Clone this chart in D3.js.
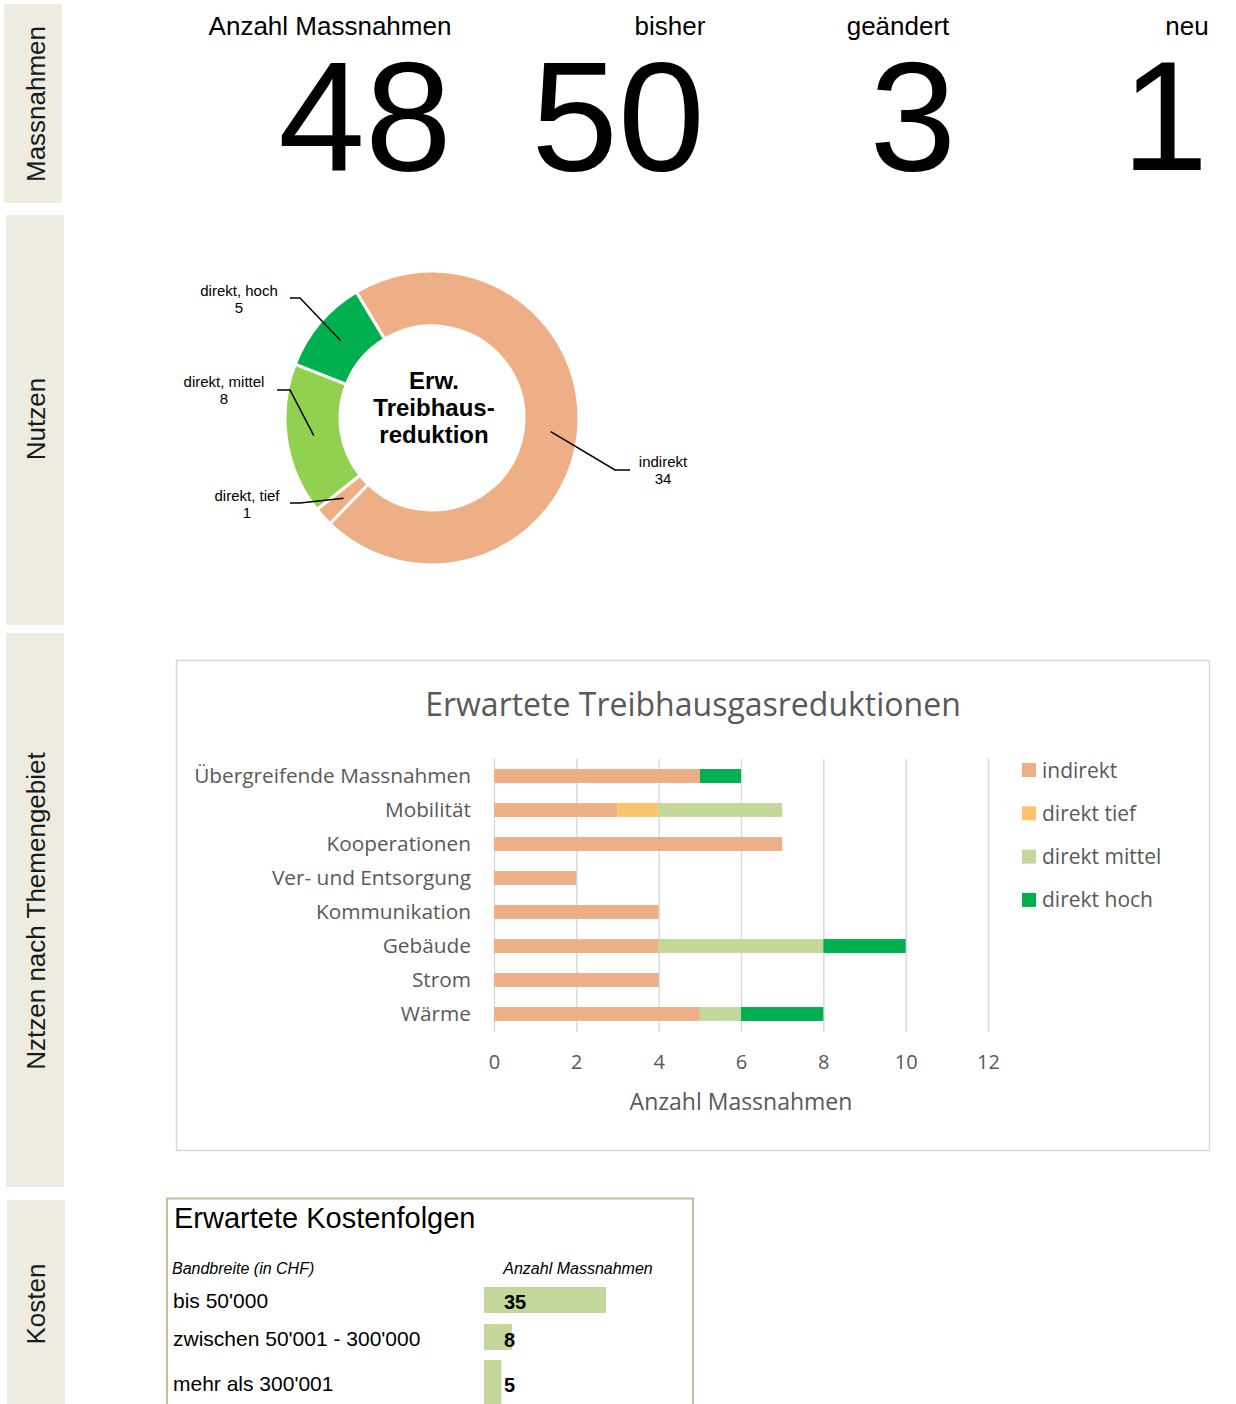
<!DOCTYPE html>
<html>
<head>
<meta charset="utf-8">
<script src="https://cdn.jsdelivr.net/npm/d3@7"></script>
<style>
  body { margin: 0; background: #fff; }
  svg { display: block; }
</style>
</head>
<body>
<script>
// --- data ---
const sideLabels = ["Massnahmen", "Nutzen", "Nztzen nach Themengebiet", "Kosten"];

const kpiLabels = ["Anzahl Massnahmen", "bisher", "geändert", "neu"];
const kpiValues = [48, 50, 3, 1];

const donutLabels = ["indirekt", "direkt, tief", "direkt, mittel", "direkt, hoch"];
const donutValues = [34, 1, 8, 5];

const themes = ["Übergreifende Massnahmen", "Mobilität", "Kooperationen", "Ver- und Entsorgung",
  "Kommunikation", "Gebäude", "Strom", "Wärme"];
const seriesNames = ["indirekt", "direkt tief", "direkt mittel", "direkt hoch"];
const indirekt = [5, 3, 7, 2, 4, 4, 4, 5];
const direktTief = [0, 1, 0, 0, 0, 0, 0, 0];
const direktMittel = [0, 3, 0, 0, 0, 4, 0, 1];
const direktHoch = [1, 0, 0, 0, 0, 2, 0, 2];
const xTicks = [0, 2, 4, 6, 8, 10, 12];

const costLabels = ["bis 50'000", "zwischen 50'001 - 300'000", "mehr als 300'001"];
const costValues = [35, 8, 5];

// --- layout ---
const W = 1236, H = 1404;
const arial = "'Liberation Sans', Arial, sans-serif";
const calib = "'Open Sans', sans-serif";
const grey = "#595959";

const svg = d3.select("body")
  .append("svg")
  .attr("width", W)
  .attr("height", H);

// side panels
const panels = [
  {x: 4, y: 4, w: 58, h: 199},
  {x: 6, y: 215, w: 58, h: 410},
  {x: 6, y: 633, w: 58, h: 554},
  {x: 7, y: 1200, w: 58, h: 210}
];
const panelTextY = [104, 419, 911, 1304];

panels.forEach((p, i) => {
  svg.append("rect")
    .attr("x", p.x).attr("y", p.y)
    .attr("width", p.w).attr("height", p.h)
    .attr("fill", "#EEECE1");
  svg.append("text")
    .attr("transform", `translate(45,${panelTextY[i]}) rotate(-90)`)
    .attr("text-anchor", "middle")
    .attr("font-family", arial)
    .attr("font-size", 26)
    .attr("fill", "#1a1a1a")
    .text(sideLabels[i]);
});

// KPI row
const kpiLabelX = [330, 670, 898, 1187];
const kpiValueX = [365, 618, 913, 1165];

kpiLabels.forEach((l, i) => {
  svg.append("text")
    .attr("x", kpiLabelX[i]).attr("y", 35)
    .attr("text-anchor", "middle")
    .attr("font-family", arial)
    .attr("font-size", 26)
    .text(l);
  svg.append("text")
    .attr("x", kpiValueX[i]).attr("y", 170)
    .attr("text-anchor", "middle")
    .attr("font-family", arial)
    .attr("font-size", 156)
    .text(kpiValues[i]);
});

// donut
const cx = 432, cy = 418;
const donutColors = ["#EEAF86", "#EEAF86", "#92D050", "#00B050"];
const start = -31 * Math.PI / 180;

const pie = d3.pie()
  .sort(null)
  .startAngle(start)
  .endAngle(start + 2 * Math.PI);

const arc = d3.arc()
  .innerRadius(92)
  .outerRadius(147);

const arcs = pie(donutValues);
const dg = svg.append("g").attr("transform", `translate(${cx},${cy})`);

dg.selectAll("path")
  .data(arcs)
  .join("path")
  .attr("d", arc)
  .attr("fill", (d, i) => donutColors[i])
  .attr("stroke", "#fff")
  .attr("stroke-width", 3);

dg.append("text")
  .attr("text-anchor", "middle")
  .attr("font-family", arial)
  .attr("font-weight", "bold")
  .attr("font-size", 24)
  .selectAll("tspan")
  .data(["Erw.", "Treibhaus-", "reduktion"])
  .join("tspan")
  .attr("x", 2)
  .attr("y", (d, i) => -29 + i * 27)
  .text(d => d);

// donut labels with leader lines
const labelPos = [
  {x: 663, y: 467, lx: 630, kx: 615},
  {x: 247, y: 501, lx: 290, kx: 300},
  {x: 224, y: 387, lx: 277, kx: 290},
  {x: 239, y: 296, lx: 290, kx: 300}
];
const lineY = [470, 503, 390, 298];

arcs.forEach((a, i) => {
  const c = arc.centroid(a);
  const p = labelPos[i];
  svg.append("path")
    .attr("d", d3.line()([[p.lx, lineY[i]], [p.kx, lineY[i]], [cx + c[0], cy + c[1]]]))
    .attr("fill", "none")
    .attr("stroke", "#000")
    .attr("stroke-width", 1.5);
  const t = svg.append("text")
    .attr("text-anchor", "middle")
    .attr("font-family", arial)
    .attr("font-size", 15);
  t.append("tspan").attr("x", p.x).attr("y", p.y).text(donutLabels[i]);
  t.append("tspan").attr("x", p.x).attr("y", p.y + 17).text(donutValues[i]);
});

// stacked bar chart
svg.append("rect")
  .attr("x", 176.5).attr("y", 660.5)
  .attr("width", 1033).attr("height", 490)
  .attr("fill", "#fff")
  .attr("stroke", "#D9D9D9")
  .attr("stroke-width", 1.5);

svg.append("text")
  .attr("x", 693).attr("y", 716)
  .attr("text-anchor", "middle")
  .attr("font-family", calib)
  .attr("font-size", 32)
  .attr("fill", grey)
  .text("Erwartete Treibhausgasreduktionen");

const x = d3.scaleLinear()
  .domain([0, 12])
  .range([494, 988]);

const y = d3.scaleBand()
  .domain(themes)
  .range([759, 1031])
  .paddingInner(0.59)
  .paddingOuter(0.295);

const barColors = ["#EEAF86", "#FFC36D", "#C4D79B", "#00B050"];
const table = themes.map((t, i) => ({
  theme: t,
  "indirekt": indirekt[i],
  "direkt tief": direktTief[i],
  "direkt mittel": direktMittel[i],
  "direkt hoch": direktHoch[i]
}));
const stacked = d3.stack().keys(seriesNames)(table);

const xAxis = svg.append("g")
  .attr("transform", "translate(0,1032)")
  .call(d3.axisBottom(x).tickValues(xTicks).tickSize(-273).tickPadding(23));
xAxis.select(".domain").remove();
xAxis.selectAll("line").attr("stroke", "#D9D9D9").attr("stroke-width", 1.5);
xAxis.selectAll("text")
  .attr("font-family", calib)
  .attr("font-size", 20)
  .attr("fill", grey);

svg.append("g")
  .selectAll("g")
  .data(stacked)
  .join("g")
  .attr("fill", (d, i) => barColors[i])
  .selectAll("rect")
  .data(d => d)
  .join("rect")
  .attr("x", d => x(d[0]))
  .attr("y", d => y(d.data.theme))
  .attr("width", d => x(d[1]) - x(d[0]))
  .attr("height", y.bandwidth());

svg.append("g")
  .selectAll("text")
  .data(themes)
  .join("text")
  .attr("x", 471)
  .attr("y", d => y(d) + y.bandwidth() / 2)
  .attr("dy", "0.36em")
  .attr("text-anchor", "end")
  .attr("font-family", calib)
  .attr("font-size", 20.8)
  .attr("fill", grey)
  .text(d => d);

svg.append("text")
  .attr("x", 741).attr("y", 1110)
  .attr("text-anchor", "middle")
  .attr("font-family", calib)
  .attr("font-size", 23)
  .attr("fill", grey)
  .text("Anzahl Massnahmen");

// legend
const legend = svg.append("g")
  .selectAll("g")
  .data(seriesNames)
  .join("g")
  .attr("transform", (d, i) => `translate(1022,${770 + i * 43.3})`);
legend.append("rect")
  .attr("y", -7).attr("width", 14).attr("height", 14)
  .attr("fill", (d, i) => barColors[i]);
legend.append("text")
  .attr("x", 20).attr("dy", "0.36em")
  .attr("font-family", calib)
  .attr("font-size", 21)
  .attr("fill", grey)
  .text(d => d);

// cost table
svg.append("rect")
  .attr("x", 167).attr("y", 1198.5)
  .attr("width", 526).attr("height", 230)
  .attr("fill", "#fff")
  .attr("stroke", "#C4BD97")
  .attr("stroke-width", 2);

svg.append("text")
  .attr("x", 174).attr("y", 1228)
  .attr("font-family", arial)
  .attr("font-size", 29)
  .text("Erwartete Kostenfolgen");

svg.append("text")
  .attr("x", 172).attr("y", 1274)
  .attr("font-family", arial)
  .attr("font-style", "italic")
  .attr("font-size", 16)
  .text("Bandbreite (in CHF)");

svg.append("text")
  .attr("x", 578).attr("y", 1274)
  .attr("text-anchor", "middle")
  .attr("font-family", arial)
  .attr("font-style", "italic")
  .attr("font-size", 16)
  .text("Anzahl Massnahmen");

const cx0 = 484;
const cScale = d3.scaleLinear().domain([0, 35]).range([0, 122]);
const rowTop = [1287, 1324, 1360];
const rowH = [26, 26, 50];
const rowBase = [1308, 1346, 1391];

costValues.forEach((v, i) => {
  svg.append("rect")
    .attr("x", cx0).attr("y", rowTop[i])
    .attr("width", cScale(v)).attr("height", rowH[i])
    .attr("fill", "#C4D79B");
  svg.append("text")
    .attr("x", 173).attr("y", rowBase[i])
    .attr("font-family", arial)
    .attr("font-size", 21)
    .text(costLabels[i]);
  svg.append("text")
    .attr("x", 504).attr("y", rowBase[i] + 1)
    .attr("font-family", arial)
    .attr("font-weight", "bold")
    .attr("font-size", 20)
    .text(v);
});
</script>
</body>
</html>
